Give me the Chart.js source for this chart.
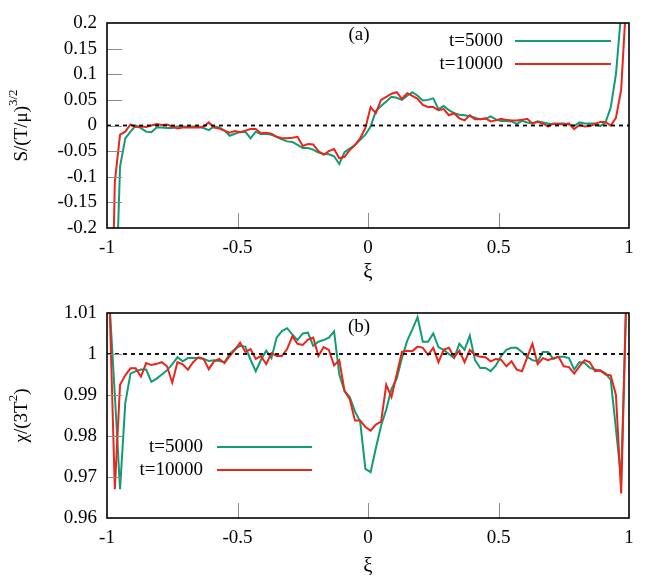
<!DOCTYPE html>
<html>
<head>
<meta charset="utf-8">
<script src="https://cdn.jsdelivr.net/npm/chart.js@4"></script>
<style>
  html, body { margin: 0; padding: 0; background: #fff; }
  canvas { display: block; }
</style>
</head>
<body>
<canvas id="chart-s" width="664" height="290"></canvas>
<canvas id="chart-chi" width="664" height="291"></canvas>
<script>
// xi grid shared by every curve
const XI = [
  -0.99, -0.97, -0.95, -0.93, -0.91, -0.89, -0.87, -0.85, -0.83, -0.81,
  -0.79, -0.77, -0.75, -0.73, -0.71, -0.69, -0.67, -0.65, -0.63, -0.61,
  -0.59, -0.57, -0.55, -0.53, -0.51, -0.49, -0.47, -0.45, -0.43, -0.41,
  -0.39, -0.37, -0.35, -0.33, -0.31, -0.29, -0.27, -0.25, -0.23, -0.21,
  -0.19, -0.17, -0.15, -0.13, -0.11, -0.09, -0.07, -0.05, -0.03, -0.01,
  0.01, 0.03, 0.05, 0.07, 0.09, 0.11, 0.13, 0.15, 0.17, 0.19,
  0.21, 0.23, 0.25, 0.27, 0.29, 0.31, 0.33, 0.35, 0.37, 0.39,
  0.41, 0.43, 0.45, 0.47, 0.49, 0.51, 0.53, 0.55, 0.57, 0.59,
  0.61, 0.63, 0.65, 0.67, 0.69, 0.71, 0.73, 0.75, 0.77, 0.79,
  0.81, 0.83, 0.85, 0.87, 0.89, 0.91, 0.93, 0.95, 0.97, 0.99,
];

// panel (a): S/(T/mu)^(3/2)
const S_T5000 = [
  -0.6, -0.4, -0.08, -0.025, -0.012, 0.0, -0.005, -0.012, -0.013, -0.004,
  -0.004, -0.005, -0.005, -0.002, -0.002, -0.003, -0.002, -0.003, -0.005, -0.009,
  -0.002, -0.004, -0.01, -0.02, -0.016, -0.013, -0.012, -0.025, -0.012, -0.017,
  -0.016, -0.018, -0.022, -0.027, -0.031, -0.032, -0.038, -0.044, -0.044, -0.047,
  -0.053, -0.055, -0.056, -0.06, -0.075, -0.052, -0.045, -0.038, -0.028, -0.018,
  -0.002, 0.028, 0.038, 0.047, 0.056, 0.054, 0.05, 0.058, 0.065, 0.058,
  0.049, 0.05, 0.053, 0.032, 0.038, 0.03, 0.024, 0.021, 0.02, 0.018,
  0.015, 0.012, 0.013, 0.018, 0.012, 0.009, 0.009, 0.008, 0.003, 0.009,
  0.006, 0.004, 0.008, 0.006, 0.004, 0.003, 0.004, 0.004, 0.002, -0.001,
  0.006, 0.004, 0.004, 0.004, -0.001, 0.006, 0.035, 0.1, 0.22, 0.6,
];
const S_T10000 = [
  -0.6, -0.11, -0.018, -0.012, 0.002, -0.003, -0.002, -0.003, 0.0, 0.003,
  0.001, 0.002, -0.002, -0.006, -0.004, -0.004, -0.004, -0.004, -0.002, 0.006,
  -0.004, -0.006, -0.01, -0.014, -0.011, -0.013, -0.01, -0.007, -0.007, -0.015,
  -0.014, -0.016, -0.022, -0.025, -0.025, -0.024, -0.022, -0.04, -0.036, -0.037,
  -0.05, -0.057, -0.05, -0.046, -0.064, -0.061, -0.048, -0.038, -0.025, -0.005,
  0.036, 0.024, 0.05, 0.056, 0.062, 0.065, 0.052, 0.063, 0.058, 0.052,
  0.04, 0.036, 0.036, 0.03, 0.032, 0.02, 0.024, 0.014, 0.01, 0.02,
  0.012, 0.012, 0.014, 0.008, 0.01, 0.013, 0.011, 0.01, 0.01, 0.011,
  0.013, 0.004, 0.007, 0.004, -0.002, 0.004, 0.003, 0.002, 0.004, -0.007,
  0.001, -0.002, -0.001, 0.003, 0.007, 0.007, 0.0, 0.015, 0.07, 0.25,
];

// panel (b): chi/(3T^2)
const CHI_T5000 = [
  1.012, 0.99, 0.967, 0.988, 0.9952, 0.9958, 0.9962, 0.9962, 0.9932, 0.994,
  0.995, 0.996, 0.9975, 0.9992, 0.9982, 0.999, 0.999, 0.999, 0.9988, 0.9983,
  0.9985, 0.9983, 0.998, 1.0, 1.0012, 1.002, 1.0018, 0.9986, 0.9958, 0.9986,
  1.0008, 0.999, 1.004, 1.0056, 1.0063, 1.0048, 1.0034, 1.005, 1.0052, 1.002,
  1.003, 1.0034, 1.004, 1.0055, 0.995, 0.991, 0.9895, 0.986, 0.9835, 0.972,
  0.9712, 0.977, 0.9825, 0.9865, 0.9915, 0.994, 0.999, 1.0032, 1.006, 1.009,
  1.003, 1.003, 1.005, 1.0017, 1.001, 1.0, 0.999, 1.0025, 1.001, 1.0045,
  0.9985, 0.9966, 0.9966, 0.9958, 0.9972, 0.9995, 1.001, 1.0015, 1.0015, 1.0005,
  0.9993, 0.9985, 0.9982, 1.0005, 1.0005, 0.9988, 0.9993, 0.9993, 0.999, 0.9962,
  0.998, 0.9978, 0.9966, 0.9962, 0.996, 0.9953, 0.9937, 0.9817, 0.9695, 1.015,
];
const CHI_T10000 = [
  1.012, 0.967, 0.9925, 0.9948, 0.9965, 0.9965, 0.9945, 0.9978, 0.9973, 0.9976,
  0.998, 0.997, 0.993, 0.998, 0.9975, 0.9962, 0.998, 0.9992, 0.9988, 0.9963,
  0.9982, 0.9988, 0.9978, 0.9995, 1.001, 1.0028, 1.0005, 1.0012, 0.9988, 0.9995,
  0.9975, 1.0002, 0.9995, 0.9995, 1.0012, 1.0043, 1.0025, 1.0022, 1.0035, 1.004,
  0.9995, 1.0017, 1.001, 0.9972, 0.9985, 0.991, 0.989, 0.9838, 0.9838, 0.9822,
  0.9813, 0.9828, 0.9835, 0.9925, 0.9895, 0.995, 1.0005, 1.0008, 1.0007, 1.0018,
  1.0015, 0.9998, 1.0015, 0.998, 1.001, 1.0015, 0.9992, 1.0008, 0.998, 1.001,
  0.9998, 0.9993, 0.9992, 0.9982, 0.9988, 0.9986, 0.997, 0.9982, 0.9962, 0.9958,
  0.9992, 1.0025, 0.9975, 0.999, 0.9985, 0.999, 0.9993, 0.997, 0.9968, 0.9952,
  0.997, 0.9985, 0.998, 0.9958, 0.996, 0.995, 0.9948, 0.99, 0.966, 1.015,
];

const X_TICKS = [-1, -0.5, 0, 0.5, 1];
const S_TICKS = [-0.2, -0.15, -0.1, -0.05, 0, 0.05, 0.1, 0.15, 0.2];
const CHI_TICKS = [0.96, 0.97, 0.98, 0.99, 1, 1.01];
const S_REF = 0;
const CHI_REF = 1;
const SERIES_LABELS = ['t=5000', 't=10000'];

const GREEN = '#109c74';
const RED = '#e8261c';
const TICK_GRAY = '#8c8c8c';
const FONT = "'Liberation Serif', 'DejaVu Serif', serif";

function points(ys) {
  return XI.map((x, i) => ({ x: x, y: ys[i] }));
}

// frame, inward ticks, y title with superscript, legend with text left of sample, panel tag
const decor = {
  id: 'decor',
  afterDatasetsDraw(chart, args, opts) {
    const { ctx, chartArea: a, scales } = chart;
    ctx.save();

    ctx.strokeStyle = TICK_GRAY;
    ctx.lineWidth = 1;
    ctx.beginPath();
    scales.x.ticks.forEach((t) => {
      const px = Math.round(scales.x.getPixelForValue(t.value)) + 0.5;
      if (px <= a.left + 2 || px >= a.right - 2) return;
      ctx.moveTo(px, a.bottom);
      ctx.lineTo(px, a.bottom - 15);
    });
    scales.y.ticks.forEach((t) => {
      const py = Math.round(scales.y.getPixelForValue(t.value)) + 0.5;
      if (py <= a.top + 2 || py >= a.bottom - 2) return;
      ctx.moveTo(a.left, py);
      ctx.lineTo(a.left + 15, py);
    });
    ctx.stroke();

    ctx.strokeStyle = '#000';
    ctx.lineWidth = 1.6;
    ctx.strokeRect(a.left, a.top, a.width, a.height);

    // y title
    ctx.fillStyle = '#000';
    ctx.textBaseline = 'middle';
    ctx.textAlign = 'left';
    const parts = opts.yTitle;
    let total = 0;
    parts.forEach((p) => {
      ctx.font = (p.sup ? 13 : 19) + 'px ' + FONT;
      p.w = ctx.measureText(p.text).width;
      total += p.w;
    });
    ctx.save();
    ctx.translate(opts.yTitleX, (a.top + a.bottom) / 2);
    ctx.rotate(-Math.PI / 2);
    let cx = -total / 2;
    parts.forEach((p) => {
      ctx.font = (p.sup ? 13 : 19) + 'px ' + FONT;
      ctx.fillText(p.text, cx, p.sup ? -8 : 0);
      cx += p.w;
    });
    ctx.restore();

    // panel tag
    ctx.font = '19px ' + FONT;
    ctx.textAlign = 'center';
    ctx.fillText(opts.tag, opts.tagX, opts.tagY);

    // legend
    const lg = opts.legend;
    chart.data.datasets.forEach((ds) => {
      const row = SERIES_LABELS.indexOf(ds.label);
      if (row < 0) return;
      const y = lg.y + row * lg.dy;
      ctx.textAlign = 'right';
      ctx.fillStyle = '#000';
      ctx.font = '19px ' + FONT;
      ctx.fillText(ds.label, lg.textRight, y);
      ctx.strokeStyle = ds.borderColor;
      ctx.lineWidth = 2;
      ctx.beginPath();
      ctx.moveTo(lg.lineStart, y);
      ctx.lineTo(lg.lineEnd, y);
      ctx.stroke();
    });

    ctx.restore();
  },
};

function makeChart(canvasId, cfg) {
  return new Chart(document.getElementById(canvasId), {
    type: 'line',
    data: {
      datasets: [
        {
          label: 'ref',
          data: [{ x: X_TICKS[0], y: cfg.ref }, { x: X_TICKS[X_TICKS.length - 1], y: cfg.ref }],
          borderColor: '#000',
          borderWidth: 1.8,
          borderDash: [4, 4],
          pointRadius: 0,
          order: 0,
        },
        {
          label: SERIES_LABELS[0],
          data: points(cfg.green),
          borderColor: GREEN,
          borderWidth: 2,
          pointRadius: 0,
          tension: 0,
          order: 2,
        },
        {
          label: SERIES_LABELS[1],
          data: points(cfg.red),
          borderColor: RED,
          borderWidth: 2,
          pointRadius: 0,
          tension: 0,
          order: 1,
        },
      ],
    },
    options: {
      responsive: false,
      animation: false,
      layout: { padding: { top: 23, right: 35, left: 0, bottom: 0 } },
      plugins: {
        legend: { display: false },
        tooltip: { enabled: false },
        decor: cfg.decor,
      },
      scales: {
        x: {
          type: 'linear',
          min: -1,
          max: 1,
          afterBuildTicks: (scale) => { scale.ticks = X_TICKS.map((v) => ({ value: v })); },
          afterFit: (scale) => { scale.height = cfg.xAxisHeight; },
          grid: { display: false, drawTicks: false },
          border: { display: false },
          ticks: {
            color: '#000',
            padding: 9,
            maxRotation: 0,
            autoSkip: false,
            font: { family: FONT, size: 19 },
            callback: (v) => String(v),
          },
          title: {
            display: true,
            text: 'ξ',
            color: '#000',
            font: { family: FONT, size: 21 },
            padding: { top: 0, bottom: cfg.xTitlePad },
          },
        },
        y: {
          type: 'linear',
          min: cfg.ticks[0],
          max: cfg.ticks[cfg.ticks.length - 1],
          afterBuildTicks: (scale) => { scale.ticks = cfg.ticks.map((v) => ({ value: v })); },
          afterFit: (scale) => { scale.width = 107; },
          grid: { display: false, drawTicks: false },
          border: { display: false },
          ticks: {
            color: '#000',
            padding: 10,
            autoSkip: false,
            font: { family: FONT, size: 19 },
            callback: (v) => String(v),
          },
        },
      },
    },
    plugins: [decor],
  });
}

makeChart('chart-s', {
  ref: S_REF,
  green: S_T5000,
  red: S_T10000,
  ticks: S_TICKS,
  xAxisHeight: 62,
  xTitlePad: 5,
  decor: {
    yTitle: [{ text: 'S/(T/μ)' }, { text: '3/2', sup: true }],
    yTitleX: 22,
    tag: '(a)',
    tagX: 359,
    tagY: 35,
    legend: { y: 41, dy: 23, textRight: 503, lineStart: 515, lineEnd: 611 },
  },
});

makeChart('chart-chi', {
  ref: CHI_REF,
  green: CHI_T5000,
  red: CHI_T10000,
  ticks: CHI_TICKS,
  xAxisHeight: 63,
  xTitlePad: 2,
  decor: {
    yTitle: [{ text: 'χ/(3T' }, { text: '2', sup: true }, { text: ')' }],
    yTitleX: 22,
    tag: '(b)',
    tagX: 359,
    tagY: 37,
    legend: { y: 157, dy: 23, textRight: 203, lineStart: 217, lineEnd: 312 },
  },
});
</script>
</body>
</html>
